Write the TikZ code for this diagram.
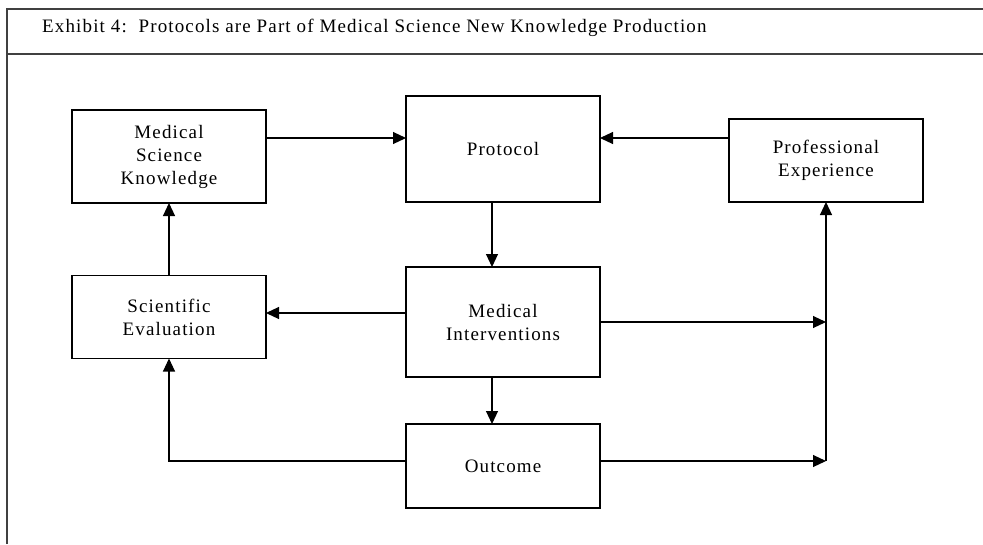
\documentclass[tikz,border=0pt]{standalone}
\usepackage{fontspec}
\setmainfont{Liberation Serif}[LetterSpace=6]
\usetikzlibrary{arrows.meta}
\begin{document}
\begin{tikzpicture}[x=1pt,y=-1pt,
  box/.style={draw=black,line width=1.1pt,rectangle,inner sep=0pt,outer sep=0pt,
    minimum width=194pt,align=center,font=\fontsize{19}{23}\selectfont},
  conn/.style={draw=black,line width=1.1pt},
  arr/.style={conn,-{Triangle[length=13pt,width=12pt]}},
  frame/.style={draw=black!75,line width=1.6pt}]
\useasboundingbox (0,0) rectangle (983,544);
% frame
\draw[frame] (7,544) -- (7,9) -- (983,9);
\draw[frame] (7,54) -- (983,54);
\node[anchor=base west,inner sep=0pt,font=\fontsize{19}{23}\selectfont] (title) at (42,32)
  {Exhibit 4:\ \ Protocols are Part of Medical Science New Knowledge Production};
% boxes
\node[box,minimum height=93pt]  (msk)   at (169,156.5) {Medical\\Science\\Knowledge};
\node[box,minimum height=106pt] (proto) at (503,149)   {Protocol};
\node[box,minimum height=83pt]  (pe)    at (826,160.5) {Professional\\Experience};
\node[box,minimum height=83pt]  (se)    at (169,317)   {Scientific\\Evaluation};
\node[box,minimum height=110pt] (mi)    at (503,322)   {Medical\\Interventions};
\node[box,minimum height=84pt]  (out)   at (503,466)   {Outcome};
% connectors
\draw[arr] (msk.east |- 0,138) -- (proto.west |- 0,138);
\draw[arr] (pe.west |- 0,138) -- (proto.east |- 0,138);
\draw[arr] (proto.south -| 492,0) -- (mi.north -| 492,0);
\draw[arr] (mi.west |- 0,313) -- (se.east |- 0,313);
\draw[arr] (se.north) -- (msk.south);
\draw[arr] (mi.east) -- (mi.east -| pe.south);
\draw[arr] (mi.south -| 492,0) -- (out.north -| 492,0);
\draw[arr] (out.west |- 0,461) -- (se.south |- 0,461) -- (se.south);
\draw[arr] (out.east |- 0,461) -- (pe.south |- 0,461);
\draw[arr] (pe.south |- 0,461) -- (pe.south);
\end{tikzpicture}
\end{document}
